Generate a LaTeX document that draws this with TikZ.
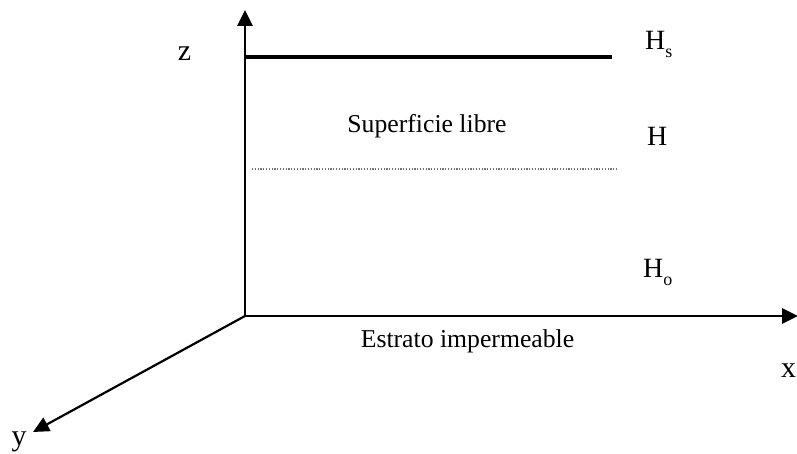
\documentclass[tikz,border=0pt]{standalone}
\usepackage{fontspec}
\setmainfont{Liberation Serif}
\usetikzlibrary{arrows.meta, positioning}
\tikzset{
  every picture/.style={x=1bp, y=-1bp},
  axis/.style={-{Triangle[length=16bp, width=15bp]}, line width=2.8bp, black},
  level/.style={line width=4bp, black},
  freesurf/.style={line width=1.6bp, black!55, dash pattern=on 1.2bp off 1.6bp},
  axislabel/.style={font=\fontsize{30}{30}\selectfont, inner sep=0pt, anchor=base},
  levellabel/.style={font=\fontsize{28}{28}\selectfont, inner sep=0pt, anchor=base west},
  note/.style={font=\fontsize{25.8}{28}\selectfont, inner sep=0pt, anchor=base},
}
\newcommand{\sublow}[1]{{\fontsize{18}{18}\selectfont\raisebox{-8bp}{#1}}}

\begin{document}
\begin{tikzpicture}
  \useasboundingbox (0,0) rectangle (797,454);
  % axes
  \coordinate (O) at (245,316);
  \coordinate (ztip) at (245,10);
  \coordinate (xtip) at (798,316);
  \coordinate (ytip) at (33,432);
  \draw[axis] (O) -- (ztip);
  \draw[axis] (O) -- (xtip);
  \draw[axis, line width=2.2bp] (O) -- (ytip);
  \node[axislabel] (zlab) at (184.5,61) {z};
  \node[axislabel] (xlab) at (788.5,378) {x};
  \node[axislabel] (ylab) at (19,445) {y};
  % levels
  \coordinate (hsL) at (245,57);
  \coordinate (hsR) at (612,57);
  \draw[level] (hsL) -- (hsR);
  \coordinate (fsL) at (252,169);
  \coordinate (fsR) at (618,169);
  \draw[freesurf] (fsL) -- (fsR);
  \node[levellabel] (hs) at (645,50) {H\sublow{s}};
  \node[levellabel] (hm) at (647,146) {H};
  \node[levellabel] (ho) at (643,278) {H\sublow{o}};
  % texts
  \node[note] (libre) at (427,133) {Superficie libre};
  \node[note] (estrato) at (467.5,348) {Estrato impermeable};
\end{tikzpicture}
\end{document}
